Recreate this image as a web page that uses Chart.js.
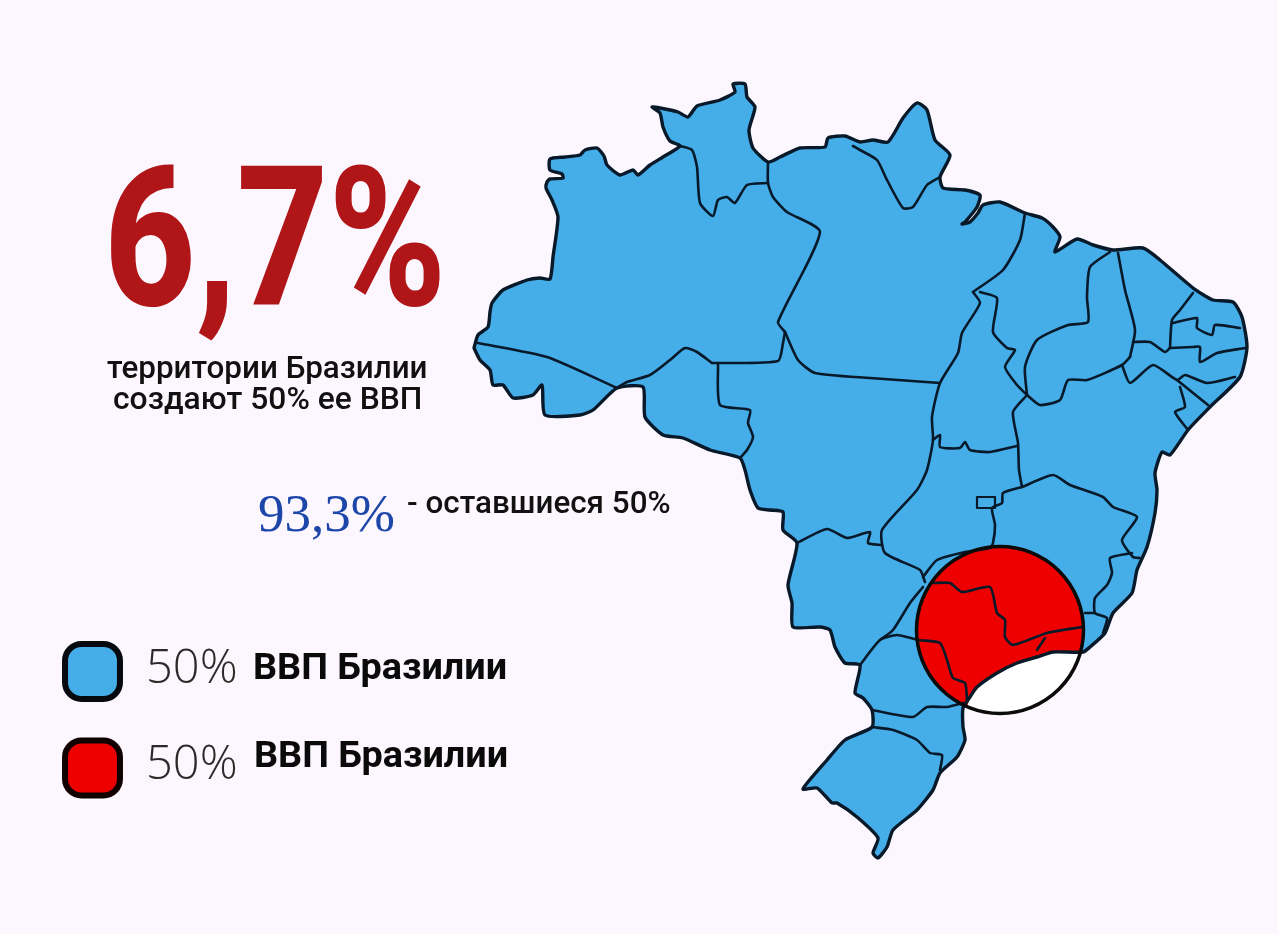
<!DOCTYPE html>
<html lang="ru"><head><meta charset="utf-8">
<title>6,7% территории Бразилии</title>
<script src="https://cdn.jsdelivr.net/npm/chart.js@4"></script>
<style>html,body{margin:0;padding:0;background:#fcf6fe;overflow:hidden}canvas{display:block}</style>
</head><body>
<canvas id="c" width="1278" height="934"></canvas>
<script>
// ---- outline of the country
const coast = [[474,348],[478,335],[488,327],[490,312],[492,303],[503,290],[527,280],[540,278],[550,279],[553,257],[558,217],[552,200],[546,188],[547,182],[550,179],[563,178],[562,174],[550,170],[550,159],[565,157],[580,155],[585,150],[597,148],[604,156],[607,165],[620,175],[633,170],[638,175],[650,165],[663,157],[680,146],[670,141],[663,127],[660,113],[652,107],[660,108],[678,112],[688,117],[697,106],[720,100],[735,92],[733,84],[745,84],[747,97],[755,107],[749,130],[753,148],[768,162],[780,157],[800,148],[825,147],[828,138],[845,136],[860,142],[873,140],[888,142],[903,118],[917,103],[927,110],[935,140],[950,155],[940,177],[943,188],[965,190],[980,195],[977,207],[965,222],[962,224],[970,222],[978,213],[983,205],[1000,202],[1025,213],[1042,218],[1053,227],[1060,237],[1055,252],[1077,239],[1093,245],[1113,250],[1143,248],[1160,260],[1193,288],[1213,300],[1233,302],[1242,317],[1247,347],[1240,377],[1210,407],[1188,430],[1170,455],[1162,452],[1155,473],[1157,490],[1155,513],[1147,547],[1137,570],[1132,593],[1113,613],[1105,633],[1090,647],[1083,652],[1053,652],[1037,657],[1017,663],[997,673],[977,687],[970,697],[963,708],[963,727],[965,740],[957,757],[940,773],[933,790],[917,810],[893,830],[887,847],[878,858],[873,853],[878,838],[857,817],[837,803],[832,803],[817,788],[803,789],[827,760],[845,740],[872,727],[872,710],[863,698],[855,693],[860,665],[845,663],[835,647],[830,630],[820,627],[793,627],[792,603],[788,585],[797,543],[783,530],[783,512],[770,510],[758,508],[750,490],[745,470],[740,458],[710,450],[683,438],[663,435],[645,417],[643,387],[617,388],[593,410],[580,415],[545,415],[542,385],[533,395],[513,398],[503,385],[493,385],[490,370],[480,360],[474,348]];
// ---- internal state borders
const acreLine = [[478,343],[547,357],[617,388]];
const rondoniaTop = [[617,388],[627,382],[650,375],[670,360],[685,348],[697,352],[712,363]];
const rondoniaEast = [[718,363],[720,405],[750,410],[748,423],[753,437],[747,450],[740,458]];
const amazonasSouth = [[712,363],[778,361],[783,343],[785,332]];
const amazonasEast = [[785,332],[778,322],[820,232],[787,212],[773,197],[768,183],[768,162]];
const roraimaSouth = [[680,146],[692,150],[697,167],[700,203],[713,216],[718,200],[727,197],[735,203],[747,185],[768,183]];
const paraSouth = [[785,332],[798,360],[815,373],[870,378],[940,383]];
const amapa = [[853,146],[860,150],[877,160],[887,180],[903,208],[913,207],[927,185],[940,177]];
const paraMaranhao = [[1025,213],[1020,240],[1003,270],[973,292]];
const paraTocantins = [[973,292],[980,303],[962,333],[958,353],[940,383],[932,417],[933,440],[927,470],[917,490],[882,530],[885,553],[920,570],[925,582]];
const tocantinsMaranhao = [[980,292],[997,298],[993,332],[1007,348],[1015,350],[1005,367],[1017,385],[1027,395]];
const maranhaoPiaui = [[1110,252],[1090,267],[1087,297],[1088,322],[1068,325],[1037,340],[1025,367],[1027,395]];
const tocantinsBahia = [[1027,395],[1013,412],[1018,443],[1019,470],[1022,487]];
const tocantinsGoias = [[933,440],[940,435],[940,447],[960,448],[965,442],[970,450],[990,452],[1017,446]];
const piauiBahia = [[1027,395],[1040,405],[1060,400],[1068,380],[1087,380],[1122,365],[1130,357]];
const piauiCeara = [[1118,253],[1125,290],[1135,330],[1130,357]];
const cearaSouth = [[1133,342],[1150,342],[1165,352],[1170,348]];
const cearaEast = [[1170,348],[1172,320],[1180,310],[1193,293]];
const rnParaiba = [[1173,323],[1197,318],[1197,328],[1212,335],[1215,325],[1240,328]];
const paraibaPernambuco = [[1170,348],[1193,347],[1200,347],[1200,362],[1217,353],[1245,348]];
const pernambucoSouth = [[1122,365],[1130,383],[1153,365],[1177,380],[1185,375],[1207,383],[1235,377]];
const alagoasSergipe = [[1177,380],[1208,405]];
const sergipeBahia = [[1180,387],[1185,407],[1175,412],[1188,430]];
const bahiaMinas = [[1022,487],[1053,475],[1070,485],[1103,497],[1113,507],[1137,517],[1122,540],[1133,557],[1140,558]];
const goiasMinas = [[1022,487],[1003,493],[1002,503],[992,508],[995,525],[993,543],[990,548],[965,552],[937,560],[923,577]];
const federalDistrict = [[977,497],[995,497],[995,508],[977,508],[977,497]];
const minasEspirito = [[1132,553],[1110,558],[1112,573],[1107,585],[1095,598],[1095,613],[1107,618],[1103,633]];
const minasRio = [[1085,613],[1095,613]];
const minasSaoPaulo = [[933,583],[950,583],[962,592],[990,587],[997,613],[1005,620],[1005,637],[1013,645],[1047,633],[1082,627]];
const saoPauloRio = [[1037,650],[1045,638]];
const parana = [[860,665],[880,640],[897,635],[918,640],[940,643],[947,660],[953,678],[965,683],[967,700]];
const msSaoPaulo = [[880,640],[893,630],[910,603],[923,587]];
const matoGrossoSouth = [[797,543],[827,529],[847,538],[870,532],[868,543],[882,545]];
const paranaSouth = [[872,710],[913,717],[927,707],[947,707],[963,703]];
const riograndeNorth = [[872,727],[893,730],[917,740],[930,753],[942,755],[940,770]];
const borders = [acreLine,rondoniaTop,rondoniaEast,amazonasSouth,amazonasEast,roraimaSouth,paraSouth,amapa,paraMaranhao,paraTocantins,tocantinsMaranhao,maranhaoPiaui,tocantinsBahia,tocantinsGoias,piauiBahia,piauiCeara,cearaSouth,cearaEast,rnParaiba,paraibaPernambuco,pernambucoSouth,alagoasSergipe,sergipeBahia,bahiaMinas,goiasMinas,minasEspirito,minasRio,minasSaoPaulo,saoPauloRio,parana,msSaoPaulo,matoGrossoSouth,paranaSouth,riograndeNorth];
// ---- highlighted circle, sea part of it, and legend swatches
const circleCentre = [[1000,630]];
const seaInCircle = [[1083,652],[1053,652],[1037,657],[1017,663],[997,673],[977,687],[970,697],[967,707],[978,711],[1000,713],[1022,711],[1042,702],[1059,689],[1072,672],[1083,652]];
const swatchBlue = [[92.5,671.5]];
const swatchRed = [[92.5,768]];

const BLUE='#45ade8', RED='#ee0000', INK='#08192a';
const pts = a => a.map(([x,y])=>({x,y}));
const noPoint = {pointRadius:0,pointHoverRadius:0,showLine:true,tension:0,borderJoinStyle:'round',borderCapStyle:'round'};
const curve = {...noPoint,tension:0.2};
const datasets = [];
const add = d => { d.order = 1000 - datasets.length; datasets.push(d); };
add({...curve,label:'Бразилия',data:pts(coast),fill:'shape',backgroundColor:BLUE,borderColor:'rgba(0,0,0,0)',borderWidth:0});
add({label:'50% ВВП',data:pts(circleCentre),showLine:false,pointRadius:83,pointHoverRadius:83,pointBackgroundColor:RED,pointBorderColor:RED,pointBorderWidth:0});
add({...noPoint,label:'море',data:pts(seaInCircle),fill:'shape',backgroundColor:'#ffffff',borderColor:'rgba(0,0,0,0)',borderWidth:0});
borders.forEach((b,i)=>add({...curve,label:'граница '+i,data:pts(b),fill:false,borderColor:INK,borderWidth:2.6}));
add({...noPoint,label:'округ',data:pts(federalDistrict),fill:false,borderColor:INK,borderWidth:2.2});
add({...curve,label:'контур',data:pts(coast),fill:false,borderColor:INK,borderWidth:3.4});
add({label:'круг',data:pts(circleCentre),showLine:false,pointRadius:83.5,pointHoverRadius:83.5,pointBackgroundColor:'rgba(0,0,0,0)',pointBorderColor:'#0a0a0a',pointBorderWidth:3.5});
add({label:'синий',data:pts(swatchBlue),showLine:false,pointStyle:'rectRounded',pointRadius:32,pointHoverRadius:32,pointBackgroundColor:BLUE,pointBorderColor:'#06090f',pointBorderWidth:6});
add({label:'красный',data:pts(swatchRed),showLine:false,pointStyle:'rectRounded',pointRadius:32,pointHoverRadius:32,pointBackgroundColor:RED,pointBorderColor:'#100000',pointBorderWidth:6});

// ---- texts
const labels = [
 {t:'6,7%',x:104,y:305,font:'800 194px Roboto',color:'#b01518',sx:0.82},
 {t:'территории Бразилии',x:107,y:378,font:'500 31.4px Roboto',color:'#111',sx:1},
 {t:'создают 50% ее ВВП',x:113,y:409,font:'500 31.8px Roboto',color:'#111',sx:1},
 {t:'93,3%',x:258,y:531,font:'400 53px "Liberation Serif"',color:'#1c46a8',sx:1},
 {t:'- оставшиеся 50%',x:407,y:513,font:'500 31.4px Roboto',color:'#111',sx:1},
 {t:'50%',x:146,y:683,font:'300 47px "Open Sans"',color:'#2a2a2a',sx:1},
 {t:'ВВП Бразилии',x:253,y:679,font:'700 37.8px Roboto',color:'#0a0a0a',sx:1},
 {t:'50%',x:146,y:779,font:'300 47px "Open Sans"',color:'#2a2a2a',sx:1},
 {t:'ВВП Бразилии',x:254,y:767,font:'700 37.8px Roboto',color:'#0a0a0a',sx:1}
];
const textPlugin = {id:'texts',afterDraw(ch){const c=ch.ctx;c.save();c.textBaseline='alphabetic';c.textAlign='left';
 labels.forEach(l=>{c.save();c.translate(l.x,l.y);c.scale(l.sx,1);c.font=l.font;c.fillStyle=l.color;c.fillText(l.t,0,0);c.restore();});c.restore();}};
const bgPlugin = {id:'bg',beforeDraw(ch){const c=ch.ctx;c.save();c.fillStyle='#fcf6fe';c.fillRect(0,0,ch.width,ch.height);c.restore();}};

new Chart(document.getElementById('c'),{type:'scatter',data:{datasets},plugins:[bgPlugin,textPlugin],options:{
 responsive:false,animation:false,events:[],layout:{padding:0,autoPadding:false},
 plugins:{legend:{display:false},tooltip:{enabled:false},title:{display:false}},
 scales:{x:{type:'linear',display:false,min:0,max:1278},y:{type:'linear',display:false,min:0,max:934,reverse:true}}
}});
</script></body></html>
